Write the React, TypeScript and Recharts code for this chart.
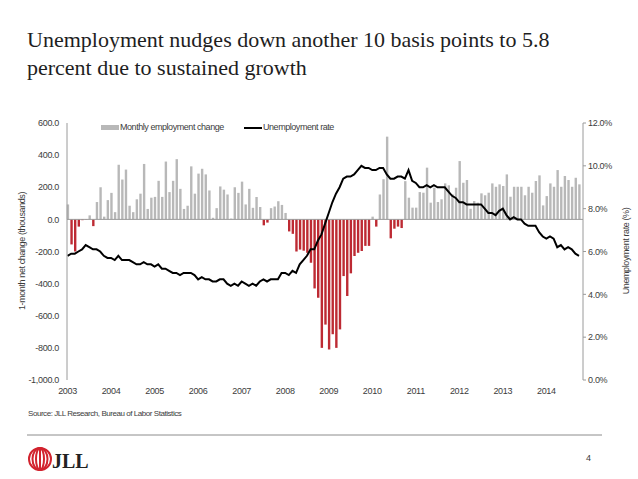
import React from "react";
import {
  ComposedChart,
  Bar,
  Line,
  XAxis,
  YAxis,
  ReferenceLine,
  Cell,
} from "recharts";

const YEARS = ["2003", "2004", "2005", "2006", "2007", "2008", "2009", "2010", "2011", "2012", "2013", "2014"];

// monthly nonfarm payroll change, thousands (Jan 2003 - Oct 2014)
const CHANGE_2003 = [93, -156, -200, -45, -5, -2, 25, -42, 108, 200, 17, 120];
const CHANGE_2004 = [165, 45, 340, 248, 310, 85, 45, 125, 160, 345, 65, 135];
const CHANGE_2005 = [140, 240, 140, 360, 170, 240, 375, 190, 65, 85, 330, 160];
const CHANGE_2006 = [285, 315, 280, 180, 10, 70, 205, 185, 155, 5, 200, 165];
const CHANGE_2007 = [235, 93, 190, 72, 140, 77, -37, -20, 70, 80, 113, 90];
const CHANGE_2008 = [40, -75, -90, -200, -188, -195, -208, -270, -430, -488, -800, -655];
const CHANGE_2009 = [-810, -715, -800, -685, -353, -477, -336, -228, -208, -197, -165, -165];
const CHANGE_2010 = [17, -45, 155, 250, 515, -118, -58, -45, -54, 238, 135, 73];
const CHANGE_2011 = [73, 170, 166, 322, 104, 197, 108, 125, 224, 212, 156, 197];
const CHANGE_2012 = [363, 228, 245, 66, 114, 104, 162, 150, 166, 224, 203, 218];
const CHANGE_2013 = [208, 280, 141, 203, 203, 203, 150, 203, 166, 239, 274, 87];
const CHANGE_2014 = [145, 224, 203, 307, 203, 270, 245, 203, 259, 218];

// unemployment rate, %
const RATE_2003 = [5.8, 5.9, 5.9, 6.0, 6.1, 6.3, 6.2, 6.1, 6.1, 6.0, 5.8, 5.7];
const RATE_2004 = [5.7, 5.6, 5.8, 5.6, 5.6, 5.6, 5.5, 5.4, 5.4, 5.5, 5.4, 5.4];
const RATE_2005 = [5.3, 5.4, 5.2, 5.2, 5.1, 5.0, 5.0, 4.9, 5.0, 5.0, 5.0, 4.9];
const RATE_2006 = [4.7, 4.8, 4.7, 4.7, 4.6, 4.6, 4.7, 4.7, 4.5, 4.4, 4.5, 4.4];
const RATE_2007 = [4.6, 4.5, 4.4, 4.5, 4.4, 4.6, 4.7, 4.6, 4.7, 4.7, 4.7, 5.0];
const RATE_2008 = [5.0, 4.9, 5.1, 5.0, 5.4, 5.6, 5.8, 6.1, 6.1, 6.5, 6.8, 7.3];
const RATE_2009 = [7.8, 8.3, 8.7, 9.0, 9.4, 9.5, 9.5, 9.6, 9.8, 10.0, 9.9, 9.9];
const RATE_2010 = [9.8, 9.8, 9.9, 9.9, 9.6, 9.4, 9.4, 9.5, 9.5, 9.4, 9.8, 9.3];
const RATE_2011 = [9.2, 9.0, 9.0, 9.1, 9.0, 9.1, 9.0, 9.0, 9.0, 8.8, 8.6, 8.5];
const RATE_2012 = [8.3, 8.3, 8.2, 8.2, 8.2, 8.2, 8.2, 8.0, 7.8, 7.8, 7.7, 7.9];
const RATE_2013 = [8.0, 7.7, 7.5, 7.6, 7.5, 7.5, 7.3, 7.2, 7.2, 7.2, 6.9, 6.7];
const RATE_2014 = [6.6, 6.7, 6.6, 6.2, 6.3, 6.1, 6.2, 6.1, 5.9, 5.8];

const LEFT_TICKS = [-1000, -800, -600, -400, -200, 0, 200, 400, 600];
const RIGHT_TICKS = [0, 2, 4, 6, 8, 10, 12];

const CHANGE = [
  ...CHANGE_2003, ...CHANGE_2004, ...CHANGE_2005, ...CHANGE_2006,
  ...CHANGE_2007, ...CHANGE_2008, ...CHANGE_2009, ...CHANGE_2010,
  ...CHANGE_2011, ...CHANGE_2012, ...CHANGE_2013, ...CHANGE_2014,
];
const RATE = [
  ...RATE_2003, ...RATE_2004, ...RATE_2005, ...RATE_2006,
  ...RATE_2007, ...RATE_2008, ...RATE_2009, ...RATE_2010,
  ...RATE_2011, ...RATE_2012, ...RATE_2013, ...RATE_2014,
];

const data = CHANGE.map((v, i) => ({ i, change: v, rate: RATE[i] }));
const YEAR_TICKS = YEARS.map((_, k) => k * 12);

const GRAY = "#b8b8b8";
const RED = "#bd2a33";
const TEXT = "#3c3c3c";
const SANS = "'Liberation Sans', Arial, sans-serif";

const fmtLeft = (v: number) =>
  v.toLocaleString("en-US", { minimumFractionDigits: 1, maximumFractionDigits: 1 });
const fmtRight = (v: number) => `${v.toFixed(1)}%`;

const small = { fontFamily: SANS, fontSize: 9, color: TEXT, whiteSpace: "nowrap" as const, letterSpacing: -0.45 };

export default function App() {
  const tick = { fontSize: 9, fill: TEXT, fontFamily: SANS, letterSpacing: -0.3 };
  return (
    <div style={{ position: "absolute", left: 0, top: 0, width: 638, height: 479, background: "#fff", overflow: "hidden" }}>
      <div
        style={{
          position: "absolute",
          left: 27,
          top: 26,
          fontFamily: "'Liberation Serif', 'Times New Roman', serif",
          fontSize: 22,
          lineHeight: "28px",
          color: "#1e1e1e",
          whiteSpace: "nowrap",
        }}
      >
        Unemployment nudges down another 10 basis points to 5.8
        <br />
        percent due to sustained growth
      </div>

      <div style={{ position: "absolute", left: 0, top: 0 }}>
        <ComposedChart
          width={638}
          height={479}
          data={data}
          margin={{ top: 123, right: 10, bottom: 79, left: 17 }}
        >
          <XAxis
            type="number"
            dataKey="i"
            domain={[-0.15, 142.1]}
            ticks={YEAR_TICKS}
            tickFormatter={(v: number) => YEARS[Math.round(v / 12)]}
            axisLine={false}
            tickLine={false}
            height={20}
            tick={tick}
          />
          <YAxis
            yAxisId="left"
            domain={[-1000, 600]}
            ticks={LEFT_TICKS}
            tickFormatter={fmtLeft}
            width={50}
            axisLine={{ stroke: "#9a9a9a" }}
            tickLine={false}
            tick={tick}
          />
          <YAxis
            yAxisId="right"
            orientation="right"
            domain={[0, 12]}
            ticks={RIGHT_TICKS}
            tickFormatter={fmtRight}
            width={45}
            axisLine={{ stroke: "#9a9a9a" }}
            tickLine={{ stroke: "#9a9a9a" }}
            tickSize={3}
            tick={tick}
          />
          <Bar yAxisId="left" dataKey="change" barSize={2.4} isAnimationActive={false}>
            {data.map((d) => (
              <Cell key={d.i} fill={d.change < 0 ? RED : GRAY} />
            ))}
          </Bar>
          <ReferenceLine yAxisId="left" y={0} stroke="#9a9a9a" strokeWidth={1} />
          <Line
            yAxisId="right"
            dataKey="rate"
            type="linear"
            stroke="#000"
            strokeWidth={2}
            dot={false}
            isAnimationActive={false}
          />
        </ComposedChart>
      </div>

      {/* legend */}
      <div style={{ position: "absolute", left: 101, top: 125, width: 18, height: 5, background: GRAY }} />
      <div style={{ ...small, position: "absolute", left: 120, top: 122 }}>Monthly employment change</div>
      <div style={{ position: "absolute", left: 244, top: 126.5, width: 18, height: 2, background: "#000" }} />
      <div style={{ ...small, position: "absolute", left: 263, top: 122 }}>Unemployment rate</div>

      <svg width={638} height={479} style={{ position: "absolute", left: 0, top: 0, pointerEvents: "none" }}>
        <text
          transform="translate(25 251) rotate(-90)"
          textAnchor="middle"
          fontFamily={SANS}
          fontSize={9}
          letterSpacing={-0.4}
          fill={TEXT}
        >
          1-month net change (thousands)
        </text>
        <text
          transform="translate(629 251) rotate(-90)"
          textAnchor="middle"
          fontFamily={SANS}
          fontSize={9}
          letterSpacing={-0.4}
          fill={TEXT}
        >
          Unemployment rate (%)
        </text>
        <text x={28} y={416} fontFamily={SANS} fontSize={8} letterSpacing={-0.45} fill={TEXT}>
          Source: JLL Research, Bureau of Labor Statistics
        </text>
        <line x1={27} y1={435} x2={602} y2={435} stroke="#8c8c8c" strokeWidth={1} />

        {/* logo */}
        <g fill="none" stroke="#d2232e" strokeWidth={2}>
          <ellipse cx={40} cy={459} rx={11} ry={11} />
          <ellipse cx={40} cy={459} rx={7.5} ry={11} />
          <ellipse cx={40} cy={459} rx={4} ry={11} />
          <line x1={40} y1={448} x2={40} y2={470} />
        </g>
        <text x={52} y={468} fontFamily="'Liberation Serif', 'Times New Roman', serif" fontWeight="bold" fontSize={20} fill="#222">
          JLL
        </text>
        <text x={586} y={461} fontFamily={SANS} fontSize={9} fill={TEXT}>
          4
        </text>
      </svg>
    </div>
  );
}
